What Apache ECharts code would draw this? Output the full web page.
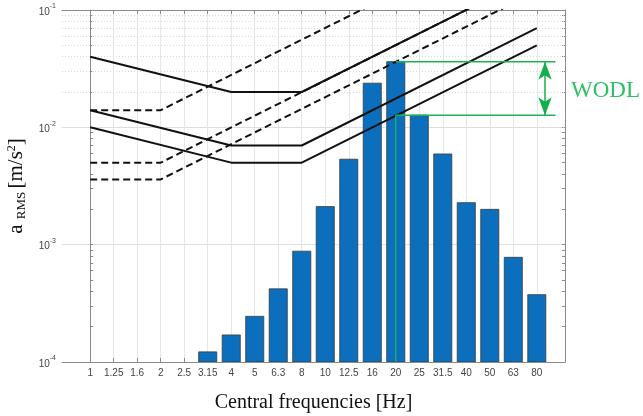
<!DOCTYPE html>
<html><head><meta charset="utf-8">
<script src="https://cdn.jsdelivr.net/npm/echarts@6/dist/echarts.min.js"></script>
<style>html,body{margin:0;padding:0;background:#fff}#c{width:643px;height:416px}</style>
</head><body><div id="c"></div>
<script>
// ---- data ----
var freqLabels = ['1','1.25','1.6','2','2.5','3.15','4','5','6.3','8','10','12.5','16','20','25','31.5','40','50','63','80'];
var barValues = [null,null,null,null,null,1.22e-4,1.70e-4,2.45e-4,4.2e-4,8.8e-4,2.11e-3,5.35e-3,2.38e-2,3.63e-2,1.27e-2,5.93e-3,2.28e-3,2.0e-3,7.8e-4,3.75e-4];
// limit curves: [category index, value] breakpoints
var solidA = [[0,0.04],[6,0.02],[9,0.02],[19,0.2]];
var solidB = [[0,0.014],[6,0.007],[9,0.007],[19,0.07]];
var solidC = [[0,0.01],[6,0.005],[9,0.005],[19,0.05]];
var dashD1 = [[0,0.014],[3,0.014],[19,0.56]];
var dashD2 = [[0,0.005],[3,0.005],[19,0.2]];
var dashD3 = [[0,0.0036],[3,0.0036],[19,0.144]];
var yMajor = [1e-4,1e-3,1e-2,1e-1];
var yMinor = [2e-4,3e-4,4e-4,5e-4,6e-4,7e-4,8e-4,9e-4,2e-3,3e-3,4e-3,5e-3,6e-3,7e-3,8e-3,9e-3,2e-2,3e-2,4e-2,5e-2,6e-2,7e-2,8e-2,9e-2];
var wodlTop = barValues[13], wodlBottom = barValues[14];

// ---- chart ----
var idx = freqLabels.map(function(_, i){ return i; });
var green = '#1db54f';
var chart = echarts.init(document.getElementById('c'));
function expo(v){ return Math.round(Math.log10(v)); }
var allY = yMajor.concat(yMinor).map(function(v){ return Math.log10(v); });
var yMin = 1e-4;

function lineSeries(d, dashed){
  return {type:'line', data:d, xAxisIndex:0, yAxisIndex:0, symbol:'none', clip:true, z:5,
    lineStyle:{color:'#111', width:2, type: dashed ? [7,4] : 'solid'}, silent:true, animation:false};
}
var axisCol = '#8a8a8a';
var barData = [];
idx.forEach(function(i){ if (barValues[i] != null) barData.push([i, barValues[i]]); });
var series = [
  {type:'custom', data: barData, xAxisIndex:0, yAxisIndex:0, z:3, animation:false, clip:true,
   encode:{x:0, y:1},
   renderItem:function(params, api){
     var top = api.coord([api.value(0), api.value(1)]);
     var base = api.coord([api.value(0), yMin]);
     var half = api.size([1, 0])[0] * 0.385;
     return {type:'rect', shape:{x: top[0]-half, y: top[1], width: half*2, height: base[1]-top[1]},
       style:{fill:'#0b6fbd', stroke:'#3a3a3a', lineWidth:0.8}};
   },
   markLine:{silent:true, symbol:'none', animation:false, label:{show:false}, z:1,
     lineStyle:{color:'#d9d9d9', type:[1,2], width:1},
     data: yMinor.map(function(v){ return {yAxis:v}; })}
  },
  lineSeries(solidA,false), lineSeries(solidB,false), lineSeries(solidC,false),
  lineSeries(dashD1,true), lineSeries(dashD2,true), lineSeries(dashD3,true),
  {type:'line', data:[[13,wodlTop],[19.8,wodlTop]], symbol:'none', z:8, lineStyle:{color:green,width:1.5}, animation:false, silent:true},
  {type:'line', data:[[13,wodlBottom],[19.8,wodlBottom]], symbol:'none', z:8, lineStyle:{color:green,width:1.5}, animation:false, silent:true},
  {type:'line', data:[[13,yMin],[13,wodlBottom]], symbol:'none', z:8, lineStyle:{color:green,width:1.3}, animation:false, silent:true},
  {type:'line', data:[], z:9, animation:false, silent:true,
   markLine:{silent:true, animation:false, symbol:['arrow','arrow'], symbolSize:[10,18], label:{show:false},
     lineStyle:{color:'#12b04a', width:1.5, type:'solid'},
     data:[[{coord:[19.35, wodlTop]},{coord:[19.35, wodlBottom]}]]}}
];

chart.setOption({
  animation:false,
  backgroundColor:'#fff',
  grid:{left:62, top:10, right:78, bottom:54, containLabel:false, outerBoundsMode:'none'},
  xAxis:[
    {type:'value', position:'bottom', min:-1.2, max:20.2,
     name:'Central frequencies [Hz]', nameLocation:'middle', nameGap:31,
     nameTextStyle:{fontFamily:'Liberation Serif', fontSize:20, color:'#111'},
     axisLine:{show:true, lineStyle:{color:axisCol}},
     axisTick:{show:true, inside:true, length:4, customValues: idx, lineStyle:{color:axisCol}},
     axisLabel:{show:true, customValues: idx, margin:6, fontFamily:'Liberation Sans', fontSize:10, color:'#444',
       formatter:function(v){ return freqLabels[Math.round(v)]; }},
     splitLine:{show:true, lineStyle:{color:'#e6e6e6', width:1}}},
    {type:'value', position:'top', min:-1.2, max:20.2,
     axisLine:{show:true, onZero:false, lineStyle:{color:axisCol}},
     axisTick:{show:true, inside:true, length:4, customValues: idx, lineStyle:{color:axisCol}},
     axisLabel:{show:false}, splitLine:{show:false}}
  ],
  yAxis:[
    {type:'log', logBase:10, min:1e-4, max:1e-1, position:'left',
     name:'{a|a }{sub|RMS} {a|[m/s}{sup|2}{a|]}', nameLocation:'middle', nameGap:30, nameRotate:90,
     nameTextStyle:{rich:{
       a:{fontFamily:'Liberation Serif', fontSize:21, color:'#111', lineHeight:22},
       sub:{fontFamily:'Liberation Serif', fontSize:13, color:'#111', verticalAlign:'bottom', lineHeight:22, padding:[5,0,0,0]},
       sup:{fontFamily:'Liberation Serif', fontSize:12, color:'#111', verticalAlign:'top', lineHeight:22, padding:[0,0,6,0]}}},
     axisLine:{show:true, lineStyle:{color:axisCol}},
     axisTick:{show:false},
     axisLabel:{show:true, margin:6, formatter:function(v){ return '{b|10}{s|' + expo(v) + '}'; },
       rich:{b:{fontFamily:'Liberation Sans', fontSize:10, color:'#444', lineHeight:14, verticalAlign:'bottom'},
             s:{fontFamily:'Liberation Sans', fontSize:7, color:'#444', lineHeight:14, verticalAlign:'top'}}},
     splitLine:{show:true, lineStyle:{color:'#e0e0e0', width:1}}},
    {type:'value', min:-4, max:-1, position:'left', show:true,
     axisLine:{show:false}, axisLabel:{show:false}, splitLine:{show:false},
     axisTick:{show:true, inside:true, length:3, customValues: allY, lineStyle:{color:axisCol}}},
    {type:'value', min:-4, max:-1, position:'right', show:true,
     axisLine:{show:true, lineStyle:{color:axisCol}}, axisLabel:{show:false}, splitLine:{show:false},
     axisTick:{show:true, inside:true, length:3, customValues: allY, lineStyle:{color:axisCol}}}
  ],
  graphic:[{type:'text', left:571, top:79, silent:true,
    style:{text:'WODL', fontFamily:'Liberation Serif', fontSize:23, fill:'#2dbf62'}}],
  series: series
});
</script></body></html>
